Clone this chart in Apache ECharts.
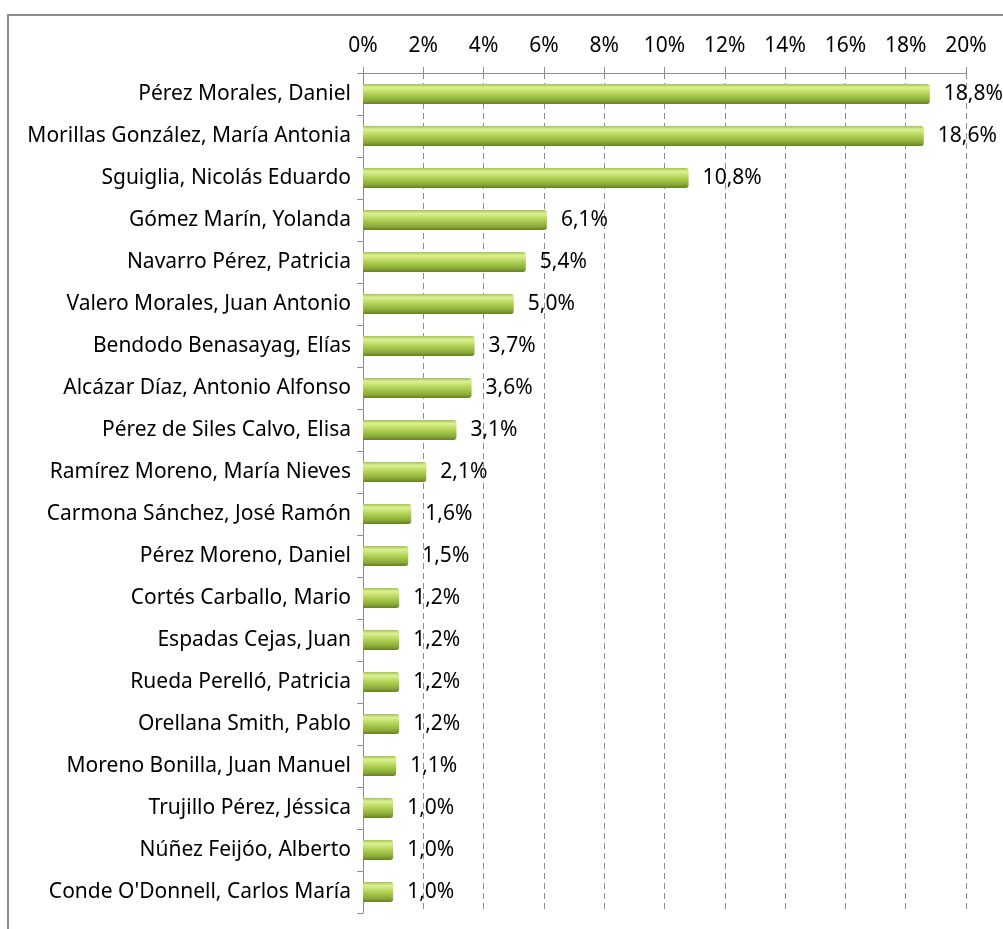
<!DOCTYPE html>
<html>
<head>
    <meta charset="utf-8">
    <title>Porcentaje por persona</title>
    <script src="https://cdn.jsdelivr.net/npm/echarts@6/dist/echarts.min.js"></script>
    <style>
        html, body { margin: 0; padding: 0; background: #fff; }
        #chart { width: 1003px; height: 929px; }
    </style>
</head>
<body>
    <div id="chart"></div>
    <script>
        // datos
        const names = [
            'Pérez Morales, Daniel',
            'Morillas González, María Antonia',
            'Sguiglia, Nicolás Eduardo',
            'Gómez Marín, Yolanda',
            'Navarro Pérez, Patricia',
            'Valero Morales, Juan Antonio',
            'Bendodo Benasayag, Elías',
            'Alcázar Díaz, Antonio Alfonso',
            'Pérez de Siles Calvo, Elisa',
            'Ramírez Moreno, María Nieves',
            'Carmona Sánchez, José Ramón',
            'Pérez Moreno, Daniel',
            'Cortés Carballo, Mario',
            'Espadas Cejas, Juan',
            'Rueda Perelló, Patricia',
            'Orellana Smith, Pablo',
            'Moreno Bonilla, Juan Manuel',
            'Trujillo Pérez, Jéssica',
            'Núñez Feijóo, Alberto',
            "Conde O'Donnell, Carlos María"
        ];
        const percentages = [18.8, 18.6, 10.8, 6.1, 5.4, 5.0, 3.7, 3.6, 3.1, 2.1,
                             1.6, 1.5, 1.2, 1.2, 1.2, 1.2, 1.1, 1.0, 1.0, 1.0];
        const xTicks = [0, 2, 4, 6, 8, 10, 12, 14, 16, 18, 20];

        const font = 'Noto Sans';
        const fs = 21;

        const chart = echarts.init(document.getElementById('chart'));
        chart.setOption({
            animation: false,
            textStyle: { fontFamily: font },
            graphic: [{
                type: 'rect',
                shape: { x: 8, y: 15, width: 1010, height: 930 },
                style: { fill: 'none', stroke: '#8c8c8c', lineWidth: 2 },
                silent: true
            }],
            grid: { left: 363, right: 37, top: 73, bottom: 16 },
            xAxis: {
                type: 'value',
                position: 'top',
                min: xTicks[0],
                max: xTicks[xTicks.length - 1],
                interval: 2,
                axisLine: { show: true, lineStyle: { color: '#8c8c8c', width: 1 } },
                axisTick: { show: true, length: 6, lineStyle: { color: '#8c8c8c' } },
                axisLabel: {
                    color: '#000', fontSize: fs, margin: 16,
                    formatter: v => v + '%'
                },
                splitLine: {
                    show: true,
                    lineStyle: { color: '#8c8c8c', type: [6, 4], width: 1 }
                }
            },
            yAxis: {
                type: 'category',
                data: names,
                inverse: true,
                axisLine: { show: true, lineStyle: { color: '#8c8c8c', width: 1 } },
                axisTick: { show: true, length: 6, lineStyle: { color: '#8c8c8c' } },
                axisLabel: { color: '#000', fontSize: fs, margin: 12 }
            },
            series: [{
                type: 'bar',
                data: percentages,
                barWidth: 20,
                itemStyle: {
                    borderRadius: [0, 3, 3, 0],
                    color: new echarts.graphic.LinearGradient(0, 0, 0, 1, [
                        { offset: 0, color: '#a6c250' },
                        { offset: 0.18, color: '#dcf096' },
                        { offset: 0.45, color: '#b6d65a' },
                        { offset: 0.8, color: '#8cae38' },
                        { offset: 1, color: '#667f26' }
                    ])
                },
                label: {
                    show: true,
                    position: 'right',
                    distance: 14,
                    color: '#000',
                    fontSize: fs,
                    formatter: p => p.value.toFixed(1).replace('.', ',') + '%'
                }
            }]
        });
    </script>
</body>
</html>
